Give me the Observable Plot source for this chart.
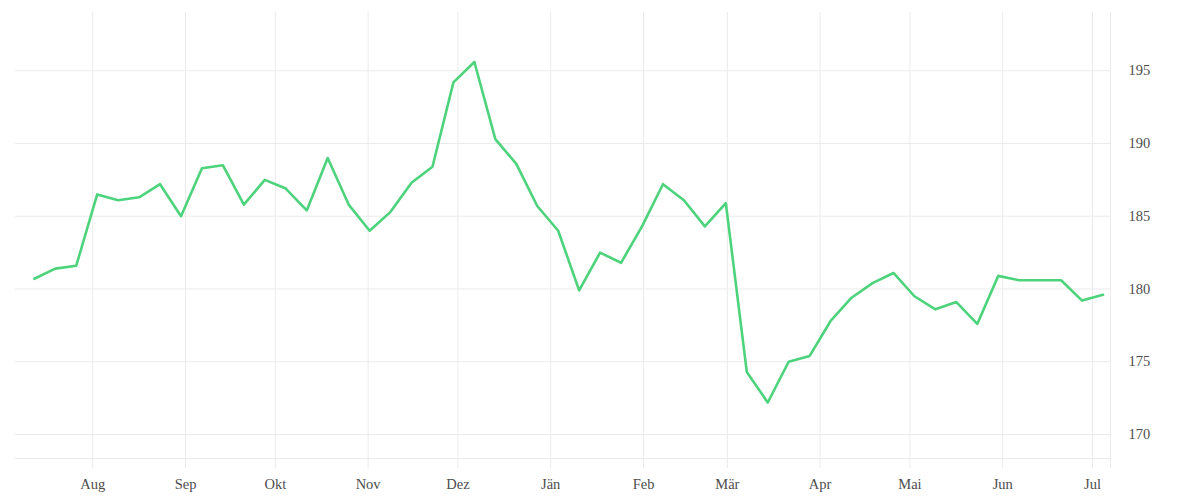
<!DOCTYPE html>
<html>
<head>
<meta charset="utf-8">
<script src="https://cdn.jsdelivr.net/npm/d3@7"></script>
<script src="https://cdn.jsdelivr.net/npm/@observablehq/plot@0.6"></script>
<style>
  html, body { margin: 0; padding: 0; background: #ffffff; }
  #chart { width: 1200px; height: 500px; }
</style>
</head>
<body>
<div id="chart"></div>
<script>
const dates = [
  "2022-07-12","2022-07-19","2022-07-26","2022-08-02","2022-08-09","2022-08-16","2022-08-23","2022-08-30",
  "2022-09-06","2022-09-13","2022-09-20","2022-09-27","2022-10-04","2022-10-11","2022-10-18","2022-10-25",
  "2022-11-01","2022-11-08","2022-11-15","2022-11-22","2022-11-29","2022-12-06","2022-12-13","2022-12-20",
  "2022-12-27","2023-01-03","2023-01-10","2023-01-17","2023-01-24","2023-01-31","2023-02-07","2023-02-14",
  "2023-02-21","2023-02-28","2023-03-07","2023-03-14","2023-03-21","2023-03-28","2023-04-04","2023-04-11",
  "2023-04-18","2023-04-25","2023-05-02","2023-05-09","2023-05-16","2023-05-23","2023-05-30","2023-06-06",
  "2023-06-13","2023-06-20","2023-06-27","2023-07-04"
];
const values = [
  180.7, 181.4, 181.6, 186.5, 186.1, 186.3, 187.2, 185.0,
  188.3, 188.5, 185.8, 187.5, 186.9, 185.4, 189.0, 185.8,
  184.0, 185.3, 187.3, 188.4, 194.2, 195.6, 190.3, 188.6,
  185.7, 184.0, 179.9, 182.5, 181.8, 184.3, 187.2, 186.1,
  184.3, 185.9, 174.3, 172.2, 175.0, 175.4, 177.8, 179.4,
  180.4, 181.1, 179.5, 178.6, 179.1, 177.6, 180.9, 180.6,
  180.6, 180.6, 179.2, 179.6
];
const monthTicks = [
  "2022-08-01","2022-09-01","2022-10-01","2022-11-01","2022-12-01","2023-01-01",
  "2023-02-01","2023-03-01","2023-04-01","2023-05-01","2023-06-01","2023-07-01"
];
const monthLabels = ["Aug","Sep","Okt","Nov","Dez","Jän","Feb","Mär","Apr","Mai","Jun","Jul"];
const yTicks = [170, 175, 180, 185, 190, 195];
const xDomain = ["2022-07-06T05:00:00Z", "2023-07-07T00:00:00Z"];
const yDomain = [168.35, 199.0];

const data = dates.map((d, i) => ({date: new Date(d + "T12:00:00Z"), value: values[i]}));
const tickDates = monthTicks.map(d => new Date(d + "T00:00:00Z"));
const labelOf = new Map(tickDates.map((d, i) => [+d, monthLabels[i]]));
const xd = xDomain.map(d => new Date(d));

const gridColor = "#ebebeb";
const textColor = "#4d4d4d";

const chart = Plot.plot({
  width: 1200,
  height: 500,
  marginLeft: 15,
  marginRight: 90,
  marginTop: 12,
  marginBottom: 42,
  style: {fontFamily: "'Liberation Serif', serif", fontSize: "14.5px", background: "#ffffff", color: textColor},
  x: {type: "utc", domain: xd},
  y: {domain: yDomain},
  marks: [
    Plot.gridY(yTicks, {stroke: gridColor, strokeOpacity: 1}),
    Plot.gridX(tickDates, {stroke: gridColor, strokeOpacity: 1}),
    Plot.frame({anchor: "bottom", stroke: gridColor, strokeOpacity: 1}),
    Plot.ruleX([xd[1]], {stroke: gridColor, strokeOpacity: 1, insetBottom: -10}),
    Plot.axisX(tickDates, {
      tickSize: 10, tickPadding: 10, stroke: gridColor, strokeOpacity: 1,
      fill: textColor, fontSize: 14.5,
      tickFormat: d => labelOf.get(+d), label: null
    }),
    Plot.axisY(yTicks, {
      anchor: "right", tickSize: 0, tickPadding: 18,
      fill: textColor, fontSize: 14.5, label: null
    }),
    Plot.line(data, {x: "date", y: "value", stroke: "#4cd37b", strokeWidth: 2.6, curve: "linear"})
  ]
});
document.getElementById("chart").appendChild(chart);
</script>
</body>
</html>
